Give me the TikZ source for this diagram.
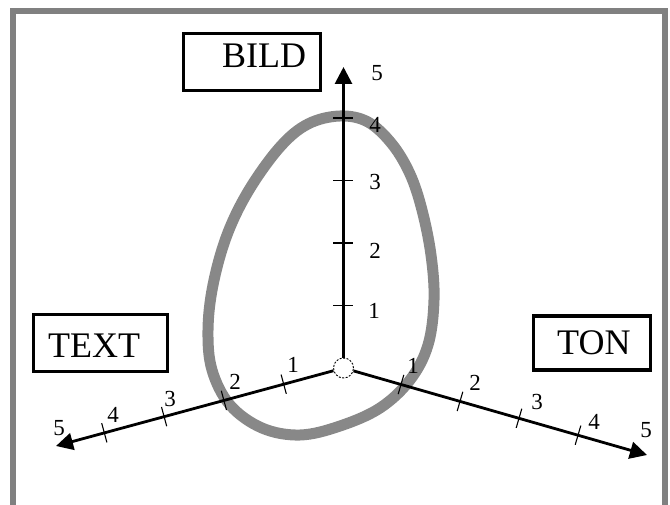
\documentclass[tikz,border=0pt]{standalone}
\usepackage{fontspec}
\setmainfont{Liberation Serif}
\usetikzlibrary{arrows.meta,calc}
\definecolor{framegray}{RGB}{128,128,128}
\definecolor{curvegray}{RGB}{136,136,136}
\begin{document}
\begin{tikzpicture}[x=1pt,y=-1pt,
  axis/.style={line width=2.8pt,-{Triangle[length=17pt,width=17pt]}},
  tickmark/.style={line width=1.1pt},
  num/.style={font=\fontsize{23}{26}\selectfont, inner sep=0pt},
  titlebox/.style={draw, line width=3.3pt, inner sep=0pt},
  title/.style={font=\fontsize{36}{40}\selectfont, inner sep=0pt, anchor=base west},
]
\useasboundingbox (0,0) rectangle (670,505);
% outer frame
\draw[framegray, line width=6pt] (13,505) -- (13,11) -- (665,11) -- (665,505);

% curve
\draw[curvegray, line width=11pt] plot[smooth cycle, tension=0.6] coordinates {
 (340,116) (368,122) (392,144) (410,174) (422,210) (431,255) (434,300)
 (428,345) (410,380) (380,408) (340,426) (300,435) (262,428) (230,405)
 (212,370) (208,330) (213,285) (227,235) (249,190) (280,147) (308,124)};

% title boxes
\node[titlebox, minimum width=137pt, minimum height=57pt] (bildbox) at (252,62) {};
\node[title] (bild) at (222,68) {BILD};
\node[titlebox, minimum width=134pt, minimum height=57pt] (textbox) at (100.5,343) {};
\node[title] (text) at (48,357) {TEXT};
\node[titlebox, minimum width=117pt, minimum height=54pt] (tonbox) at (592,343) {};
\node[title] (ton) at (557,355) {TON};

% origin
\node[draw, circle, dash pattern=on 2pt off 1.5pt, line width=0.9pt, minimum size=20pt, inner sep=0pt] (oc) at (343.5,368) {};
\coordinate (tt) at (343.5,67);
\coordinate (tl) at (56,446);
\coordinate (tr) at (647,455);
\draw[axis] (oc) -- (tt);
\draw[axis] (oc) -- (tl);
\draw[axis] (oc) -- (tr);

% ticks
\foreach \y in {305.5,243,180.5,118} \draw[tickmark] (333,\y) -- (353,\y);
\foreach \x/\y in {283.7/384.2, 223.9/400.4, 164.1/416.6, 104.3/432.8}
  \draw[tickmark] (\x-2.6,\y-9.65) -- (\x+2.6,\y+9.65);
\foreach \x/\y in {401/384.5, 460/401.4, 519/418.3, 578/435.2}
  \draw[tickmark] (\x+2.8,\y-9.6) -- (\x-2.8,\y+9.6);

% labels
\node[num] (v1) at (374,310.5) {1};
\node[num] (v2) at (375,251) {2};
\node[num] (v3) at (375,182) {3};
\node[num] (v4) at (375,125) {4};
\node[num] (v5) at (377,73) {5};
\node[num] (r1) at (413,366) {1};
\node[num] (r2) at (475,383) {2};
\node[num] (r3) at (537,402) {3};
\node[num] (r4) at (594,422) {4};
\node[num] (r5) at (646,430) {5};
\node[num] (l1) at (293,365) {1};
\node[num] (l2) at (235,382) {2};
\node[num] (l3) at (170,399) {3};
\node[num] (l4) at (113,415) {4};
\node[num] (l5) at (59,428) {5};
\end{tikzpicture}
\end{document}
